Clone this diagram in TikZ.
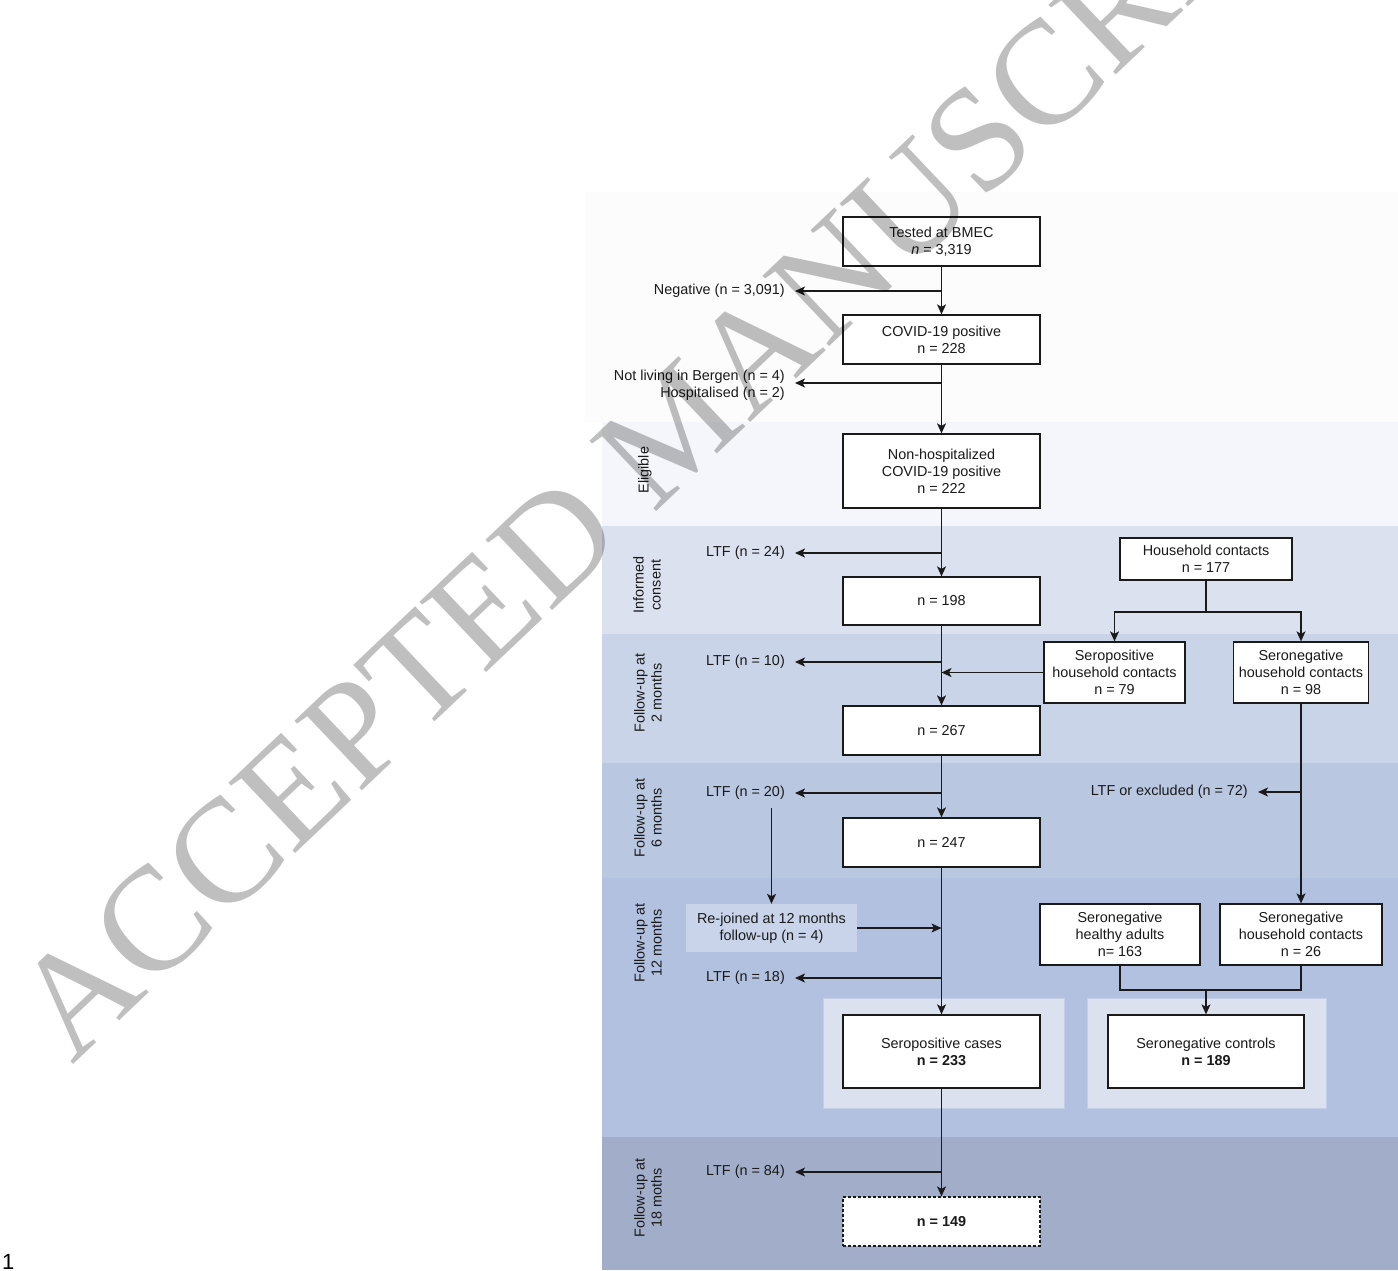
\documentclass[tikz,border=0pt]{standalone}
\usepackage{fontspec}
\setmainfont{Liberation Sans}
\newfontfamily\wmfont{Liberation Serif}
\usetikzlibrary{arrows.meta}
\definecolor{bandtop}{HTML}{FCFCFD}
\definecolor{bandA}{HTML}{F4F6FB}
\definecolor{bandB}{HTML}{DBE1EF}
\definecolor{bandC}{HTML}{CAD4E8}
\definecolor{bandD}{HTML}{B9C7E1}
\definecolor{bandE}{HTML}{B1C1DF}
\definecolor{bandF}{HTML}{A2AEC9}
\definecolor{contfill}{HTML}{DBE1EF}
\definecolor{contline}{HTML}{C3CEE7}
\definecolor{rejfill}{HTML}{C9D4EA}
\definecolor{ink}{HTML}{1A1A1A}
\definecolor{wmgray}{HTML}{BFBFBF}
\begin{document}
\begin{tikzpicture}[x=1pt,y=-1pt,
  every node/.style={font=\fontsize{14.4}{17}\selectfont, text=ink},
  flowbox/.style={draw=ink, line width=1.3pt, fill=white, align=center, inner sep=0pt},
  sidelabel/.style={align=right, inner xsep=10pt, inner ysep=0pt, anchor=east},
  bandlabel/.style={rotate=90, align=center, inner sep=0pt},
  container/.style={draw=contline, line width=0.8pt, fill=contfill, inner sep=0pt},
  arr/.style={draw=ink, line width=1.3pt, -{Stealth[length=10pt,width=9pt,inset=2.5pt]}},
  conn/.style={draw=ink, line width=1.3pt}
]
\useasboundingbox (0,0) rectangle (1398,1270);
\fill[white] (0,0) rectangle (1398,1270);
% bands
\fill[bandtop] (585,192) rectangle (1398,422);
\fill[bandA] (602,422) rectangle (1398,526);
\fill[bandB] (602,526) rectangle (1398,634);
\fill[bandC] (602,634) rectangle (1398,763);
\fill[bandD] (602,763) rectangle (1398,878);
\fill[bandE] (602,878) rectangle (1398,1137);
\fill[bandF] (602,1137) rectangle (1398,1270);

% band labels
\node[bandlabel] (labA) at (645,470) {Eligible};
\node[bandlabel] (labB) at (647,585) {Informed\\consent};
\node[bandlabel] (labC) at (648,693) {Follow-up at\\2 months};
\node[bandlabel] (labD) at (648,818) {Follow-up at\\6 months};
\node[bandlabel] (labE) at (648,943) {Follow-up at\\12 months};
\node[bandlabel] (labF) at (648,1198) {Follow-up at\\18 moths};

% containers
\node[container, minimum width=241pt, minimum height=110pt] (contcases) at (943.5,1053) {};
\node[container, minimum width=239pt, minimum height=110pt] (contctrl) at (1206.5,1053) {};

% main column
\node[flowbox, minimum width=197pt, minimum height=49pt] (tested) at (941.5,241.5) {Tested at BMEC\\\textit{n} = 3,319};
\node[flowbox, minimum width=197pt, minimum height=49pt] (covid) at (941.5,339.5) {COVID-19 positive\\n = 228};
\node[flowbox, minimum width=197pt, minimum height=74pt] (nonhosp) at (941.5,471) {Non-hospitalized\\COVID-19 positive\\n = 222};
\node[flowbox, minimum width=197pt, minimum height=48pt] (n198) at (941.5,601) {n = 198};
\node[flowbox, minimum width=197pt, minimum height=49pt] (n267) at (941.5,730.5) {n = 267};
\node[flowbox, minimum width=197pt, minimum height=49pt] (n247) at (941.5,842.5) {n = 247};
\node[flowbox, minimum width=197pt, minimum height=73pt] (cases) at (941.5,1051.5) {Seropositive cases\\\textbf{n = 233}};
\node[flowbox, dashed, dash pattern=on 3pt off 2pt, minimum width=197pt, minimum height=49pt] (n149) at (941.5,1221.5) {\textbf{n = 149}};

% right column
\node[flowbox, minimum width=172pt, minimum height=42pt] (hh) at (1206,559) {Household contacts\\n = 177};
\node[flowbox, minimum width=141pt, minimum height=61pt] (sph) at (1114.5,672.5) {Seropositive\\household contacts\\n = 79};
\node[flowbox, minimum width=135pt, minimum height=61pt] (snh) at (1301,672.5) {Seronegative\\household contacts\\n = 98};
\node[flowbox, minimum width=160pt, minimum height=61pt] (healthy) at (1120,934.5) {Seronegative\\healthy adults\\n= 163};
\node[flowbox, minimum width=162pt, minimum height=61pt] (sn26) at (1301,934.5) {Seronegative\\household contacts\\n = 26};
\node[flowbox, minimum width=196pt, minimum height=73pt] (controls) at (1206,1051.5) {Seronegative controls\\\textbf{n = 189}};

% re-joined
\node[fill=rejfill, align=center, inner sep=0pt, minimum width=171pt, minimum height=48pt] (rejoin) at (771.5,928) {Re-joined at 12 months\\follow-up (n = 4)};

% side labels
\node[sidelabel] (neg) at (795,291) {Negative (n = 3,091)};
\node[sidelabel] (notliv) at (795,385.5) {Not living in Bergen (n = 4)\\Hospitalised (n = 2)};
\node[sidelabel] (ltf24) at (795,553) {LTF (n = 24)};
\node[sidelabel] (ltf10) at (795,662) {LTF (n = 10)};
\node[sidelabel] (ltf20) at (795,793) {LTF (n = 20)};
\node[sidelabel] (ltf18) at (795,978) {LTF (n = 18)};
\node[sidelabel] (ltf84) at (795,1172) {LTF (n = 84)};
\node[sidelabel] (ltfex) at (1258,792) {LTF or excluded (n = 72)};

% main connectors
\draw[arr] (tested) -- (covid);
\draw[arr] (covid) -- (nonhosp);
\draw[arr] (nonhosp) -- (n198);
\draw[arr] (n198) -- (n267);
\draw[arr] (n267) -- (n247);
\draw[arr] (n247) -- (cases);
\draw[arr] (cases) -- (n149);

% side exits
\draw[arr] (tested.south |- neg.east) -- (neg.east);
\draw[arr] (covid.south |- 0,383) -- (notliv.east |- 0,383);
\draw[arr] (nonhosp.south |- ltf24.east) -- (ltf24.east);
\draw[arr] (n198.south |- ltf10.east) -- (ltf10.east);
\draw[arr] (n267.south |- ltf20.east) -- (ltf20.east);
\draw[arr] (n247.south |- ltf18.east) -- (ltf18.east);
\draw[arr] (cases.south |- ltf84.east) -- (ltf84.east);

% re-joined
\draw[arr, shorten <=8pt] (rejoin.north |- ltf20.south) -- (rejoin.north);
\draw[arr] (rejoin.east) -- (rejoin.east -| n247.south);

% household branch
\coordinate (split) at (1206,612);
\draw[conn] (hh.south) -- (split);
\draw[arr] (split) -| (sph.north);
\draw[arr] (split) -| (snh.north);
\draw[arr] (sph.west) -- (sph.west -| n198.south);
\draw[arr] (snh.south) -- (sn26.north);
\draw[arr] (snh.south |- ltfex.east) -- (ltfex.east);

% merge to controls
\coordinate (merge) at (1206,990);
\draw[conn] (healthy.south) |- (merge) -| (sn26.south);
\draw[arr] (merge) -- (controls.north);

% page number
\node[font=\fontsize{22}{22}\selectfont, anchor=base west, inner sep=0pt, text=black] (pgnum) at (2,1269) {1};

% watermark
\begin{scope}[blend mode=multiply]
\clip (0,0) rectangle (1398,1270);
\node[font=\wmfont\fontsize{148}{148}\selectfont, text=wmgray, rotate=43.5, anchor=base west, inner sep=0pt] (wm) at (72,1066) {ACCEPTED MANUSCRIPT};
\end{scope}
\end{tikzpicture}
\end{document}
